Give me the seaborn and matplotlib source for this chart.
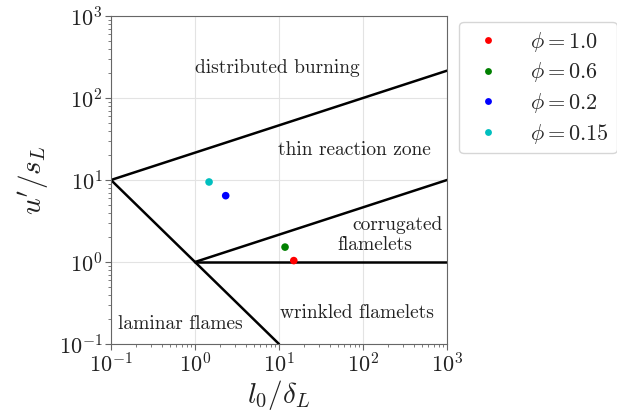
import numpy as np
import pandas as pd
import seaborn as sns
import matplotlib
matplotlib.use('Agg')
import matplotlib.pyplot as plt

# measured points (l0/delta_L, u'/s_L)
labels = [r'$\phi = 1.0$', r'$\phi = 0.6$', r'$\phi = 0.2$', r'$\phi = 0.15$']
l_ratio = [15.0, 11.8, 2.32, 1.47]
u_ratio = [1.04, 1.52, 6.44, 9.46]
colors = ['red', 'green', 'blue', 'c']

# regime boundaries
ka100_x = [0.1, 1000]
ka100_y = [10, 215.4]
ka1_x = [1, 1000]
ka1_y = [1, 10]
re1_x = [0.1, 10]
re1_y = [10, 0.1]
da1_x = [1, 1000]
da1_y = [1, 1]

sns.set_style('whitegrid')
plt.rcParams['font.family'] = ['cmr10', 'DejaVu Serif']
plt.rcParams['mathtext.fontset'] = 'cm'
plt.rcParams['axes.formatter.use_mathtext'] = True
plt.rcParams['axes.unicode_minus'] = False

fig = plt.figure(figsize=(6.17, 4.12), dpi=100)
ax = fig.add_axes([111 / 617, (412 - 344) / 412, 336 / 617, 328 / 412])

for xs, ys in [(ka100_x, ka100_y), (ka1_x, ka1_y), (re1_x, re1_y), (da1_x, da1_y)]:
    sns.lineplot(x=xs, y=ys, color='black', lw=1.8, ax=ax, legend=False)

df = pd.DataFrame({'x': l_ratio, 'y': u_ratio, 'case': labels})
sns.scatterplot(data=df, x='x', y='y', hue='case', palette=colors, s=30,
                edgecolor='none', ax=ax, zorder=5)

ax.set_xscale('log')
ax.set_yscale('log')
ax.set_xlim(0.1, 1000)
ax.set_ylim(0.1, 1000)
ax.grid(True, which='major', color='#e3e3e3', lw=0.8)
for s in ax.spines.values():
    s.set_color('#666666')
ax.tick_params(which='both', left=True, bottom=True, color='#666666',
               labelsize=16, labelcolor='#222222', pad=2)
ax.tick_params(which='major', length=4)
ax.tick_params(which='minor', length=2.5)

ax.set_xlabel(r'$l_0/\delta_L$', fontsize=21, color='#222222', labelpad=1)
ax.set_ylabel(r"$u'/s_L$", fontsize=21, color='#222222', labelpad=6)

tk = dict(fontsize=14, color='#222222', ha='center', va='center')
ax.text(9.5, 232, 'distributed burning', **tk)
ax.text(80, 23, 'thin reaction zone', **tk)
ax.text(261, 2.83, 'corrugated', **tk)
ax.text(139, 1.61, 'flamelets', **tk)
ax.text(85, 0.239, 'wrinkled flamelets', **tk)
ax.text(0.66, 0.175, 'laminar flames', **tk)

ax.legend(title=None, loc='upper left', bbox_to_anchor=(1.036, 0.982),
          fontsize=16, frameon=True, markerscale=0.9, handletextpad=0.95,
          handlelength=1.9, borderpad=0.35, labelspacing=0.3, borderaxespad=0)

fig.savefig('out.png', dpi=100)
